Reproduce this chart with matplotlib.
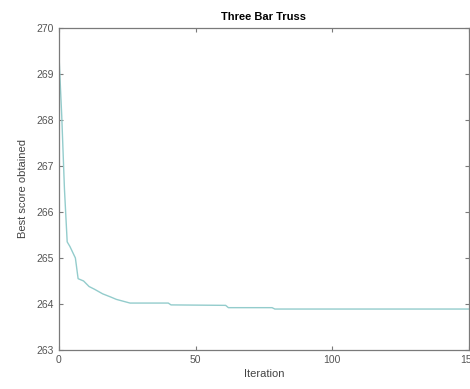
import matplotlib.pyplot as plt

# Convergence history of the best objective value, sampled where it changes
iters = [0, 1, 2, 3, 4, 6, 7, 9, 11, 13, 16, 19, 21, 26, 40, 41, 61, 62, 78, 79, 150]
best_score = [269.40, 268.10, 266.50, 265.35, 265.25, 265.00, 264.55, 264.50,
              264.38, 264.32, 264.22, 264.15, 264.10, 264.02, 264.02, 263.98,
              263.97, 263.92, 263.92, 263.89, 263.89]

x_ticks = [0, 50, 100, 150]
y_ticks = [263, 264, 265, 266, 267, 268, 269, 270]

plt.rcParams['font.family'] = ['Liberation Sans', 'DejaVu Sans']

fig = plt.figure(figsize=(4.7, 3.89), dpi=100)
ax = fig.add_axes([0.1255, 0.1003, 0.872, 0.8278])

ax.plot(iters, best_score, color='#93cccc', linewidth=1.0)

ax.set_xlim(0, 150)
ax.set_ylim(263, 270)
ax.set_xticks(x_ticks)
ax.set_yticks(y_ticks)

ax.tick_params(direction='in', top=True, right=True, length=3,
               color='#7a7a7a', labelcolor='#555555', labelsize=7.5)
for s in ax.spines.values():
    s.set_color('#7a7a7a')
    s.set_linewidth(0.9)

ax.set_title('Three Bar Truss', fontsize=8, fontweight='bold', pad=6)
ax.set_xlabel('Iteration', fontsize=8, color='#444444', labelpad=3)
ax.set_ylabel('Best score obtained', fontsize=8, color='#444444', labelpad=6)

fig.savefig('out.png', dpi=100)
